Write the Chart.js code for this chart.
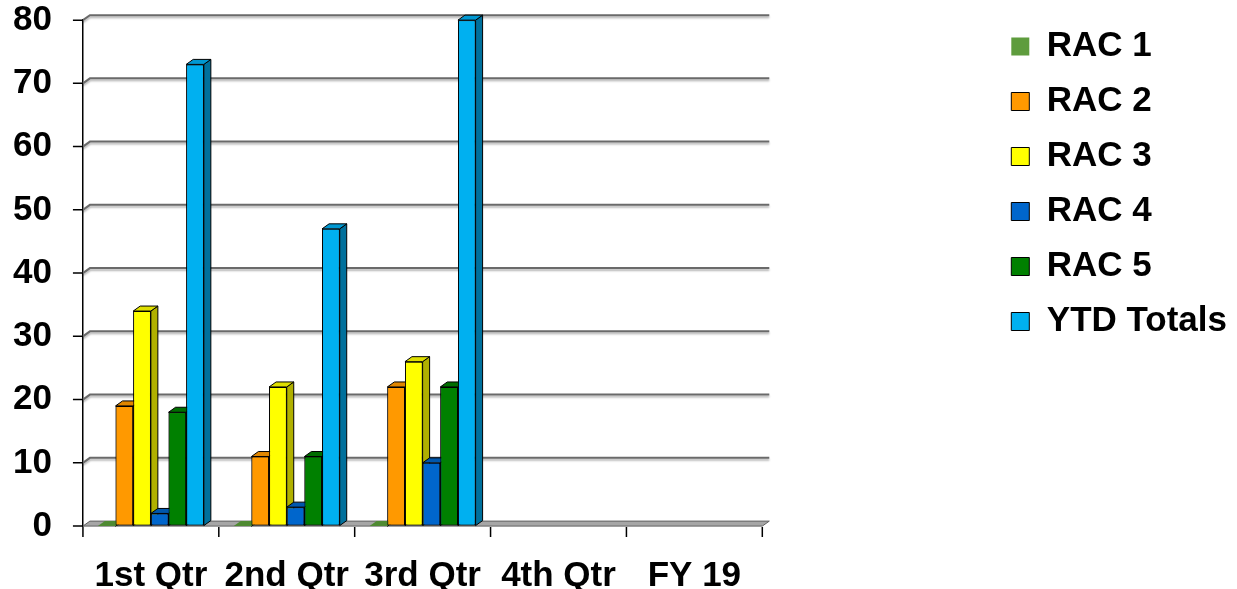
<!DOCTYPE html>
<html>
<head>
<meta charset="utf-8">
<script src="https://cdn.jsdelivr.net/npm/chart.js@4/dist/chart.umd.min.js"></script>
<style>
  html, body { margin: 0; padding: 0; background: #fff; }
  #wrap { width: 1237px; height: 589px; }
</style>
</head>
<body>
<div id="wrap"><canvas id="chart"></canvas></div>
<script>
'use strict';

const categories = ['1st Qtr', '2nd Qtr', '3rd Qtr', '4th Qtr', 'FY 19'];
const seriesNames = ['RAC 1', 'RAC 2', 'RAC 3', 'RAC 4', 'RAC 5', 'YTD Totals'];
const rac1 = [0, 0, 0, null, null];
const rac2 = [19, 11, 22, null, null];
const rac3 = [34, 22, 26, null, null];
const rac4 = [2, 3, 10, null, null];
const rac5 = [18, 11, 22, null, null];
const ytdTotals = [73, 47, 80, null, null];
const yTicks = [0, 10, 20, 30, 40, 50, 60, 70, 80];

// front / top / side colours per series
const fronts = ['#5e9c3d', '#ff9900', '#ffff00', '#0066cc', '#008000', '#00b0f0'];
const tops   = ['#4f8a32', '#e08600', '#dede00', '#0057ad', '#006d00', '#0098d2'];
const sides  = ['#3f6f28', '#b86d00', '#b0b000', '#004a94', '#005400', '#00709c'];

const DX = 7, DY = 5;
const FONT = "'Liberation Sans', Arial, sans-serif";

// back wall grid lines, floor, tick marks and the 3d faces of the bars
const box3d = {
  id: 'box3d',
  beforeDatasetsDraw(chart) {
    const ctx = chart.ctx;
    const y = chart.scales.y;
    const x = chart.scales.x;
    const a = chart.chartArea;
    const py0 = y.getPixelForValue(0);

    ctx.save();
    ctx.shadowColor = 'rgba(0,0,0,0.3)';
    ctx.shadowOffsetY = 2;
    ctx.shadowBlur = 2;
    ctx.strokeStyle = '#6a6a6a';
    ctx.lineWidth = 2;
    y.ticks.forEach(function (t) {
      if (t.value === 0) return;
      const py = y.getPixelForValue(t.value);
      ctx.beginPath();
      ctx.moveTo(a.left, py);
      ctx.lineTo(a.left + DX, py - DY);
      ctx.lineTo(a.right + DX, py - DY);
      ctx.stroke();
    });
    ctx.restore();

    // floor
    ctx.save();
    ctx.beginPath();
    ctx.moveTo(a.left, py0);
    ctx.lineTo(a.left + DX, py0 - DY);
    ctx.lineTo(a.right + DX, py0 - DY);
    ctx.lineTo(a.right, py0);
    ctx.closePath();
    ctx.fillStyle = '#a6a6a6';
    ctx.fill();
    ctx.strokeStyle = '#606060';
    ctx.lineWidth = 1;
    ctx.stroke();
    ctx.restore();

    // tick marks
    ctx.save();
    ctx.strokeStyle = '#000';
    ctx.lineWidth = 1.5;
    ctx.beginPath();
    y.ticks.forEach(function (t) {
      const py = y.getPixelForValue(t.value);
      ctx.moveTo(a.left - 10, py);
      ctx.lineTo(a.left, py);
    });
    const n = categories.length;
    for (let i = 0; i <= n; i++) {
      const px = i === 0 ? a.left : (i === n ? a.right :
        (x.getPixelForValue(i - 1) + x.getPixelForValue(i)) / 2);
      ctx.moveTo(px, py0 + 1);
      ctx.lineTo(px, py0 + 11);
    }
    ctx.stroke();
    ctx.restore();
  },
  afterDatasetsDraw(chart) {
    const ctx = chart.ctx;
    ctx.save();
    ctx.lineWidth = 1;
    ctx.strokeStyle = '#000';
    chart.data.datasets.forEach(function (ds, i) {
      const meta = chart.getDatasetMeta(i);
      meta.data.forEach(function (el, j) {
        if (ds.data[j] === null) return;
        const p = el.getProps(['x', 'y', 'base', 'width'], true);
        const l = p.x - p.width / 2, r = p.x + p.width / 2;
        // side
        ctx.beginPath();
        ctx.moveTo(r, p.y);
        ctx.lineTo(r + DX, p.y - DY);
        ctx.lineTo(r + DX, p.base - DY);
        ctx.lineTo(r, p.base);
        ctx.closePath();
        ctx.fillStyle = sides[i];
        ctx.fill();
        ctx.stroke();
        // top
        ctx.beginPath();
        ctx.moveTo(l, p.y);
        ctx.lineTo(l + DX, p.y - DY);
        ctx.lineTo(r + DX, p.y - DY);
        ctx.lineTo(r, p.y);
        ctx.closePath();
        ctx.fillStyle = tops[i];
        ctx.fill();
        if (i > 0) ctx.stroke();
        // front again so the next bar covers this side
        if (p.base - p.y > 0.5) el.draw(ctx);
      });
    });
    ctx.restore();
  }
};

const allData = [rac1, rac2, rac3, rac4, rac5, ytdTotals];

new Chart(document.getElementById('chart'), {
  type: 'bar',
  data: {
    labels: categories,
    datasets: allData.map(function (d, i) {
      return {
        label: seriesNames[i],
        data: d,
        backgroundColor: fronts[i],
        borderColor: '#000',
        borderWidth: i === 0 ? 0 : 1,
        borderSkipped: false,
        categoryPercentage: 0.78,
        barPercentage: 1
      };
    })
  },
  options: {
    responsive: true,
    maintainAspectRatio: false,
    animation: false,
    layout: { padding: { top: 9, left: 13, right: 0, bottom: 0 } },
    plugins: {
      tooltip: { enabled: false },
      legend: {
        position: 'right',
        align: 'start',
        maxWidth: 400,
        labels: {
          boxWidth: 18,
          boxHeight: 18,
          padding: 20,
          color: '#000',
          font: { family: FONT, size: 35, weight: 'bold', lineHeight: 1 }
        }
      }
    },
    scales: {
      x: {
        grid: { display: true, drawOnChartArea: false, tickLength: 37, tickColor: 'rgba(0,0,0,0)' },
        border: { display: false },
        ticks: {
          color: '#000',
          padding: 0,
          font: { family: FONT, size: 35, weight: 'bold', lineHeight: 0.74 }
        }
      },
      y: {
        min: 0,
        max: 80,
        afterBuildTicks: function (s) { s.ticks = yTicks.map(function (v) { return { value: v }; }); },
        grid: { display: true, drawOnChartArea: false, tickLength: 31, tickColor: 'rgba(0,0,0,0)' },
        border: { display: true, color: '#000', width: 1.5 },
        ticks: {
          color: '#000',
          padding: 0,
          font: { family: FONT, size: 35, weight: 'bold', lineHeight: 1.15 }
        }
      },
      gap: {
        type: 'linear',
        axis: 'y',
        position: 'right',
        grid: { display: false },
        border: { display: false },
        ticks: { display: false },
        afterFit: function (s) { s.width = 229; }
      }
    }
  },
  plugins: [box3d]
});
</script>
</body>
</html>
